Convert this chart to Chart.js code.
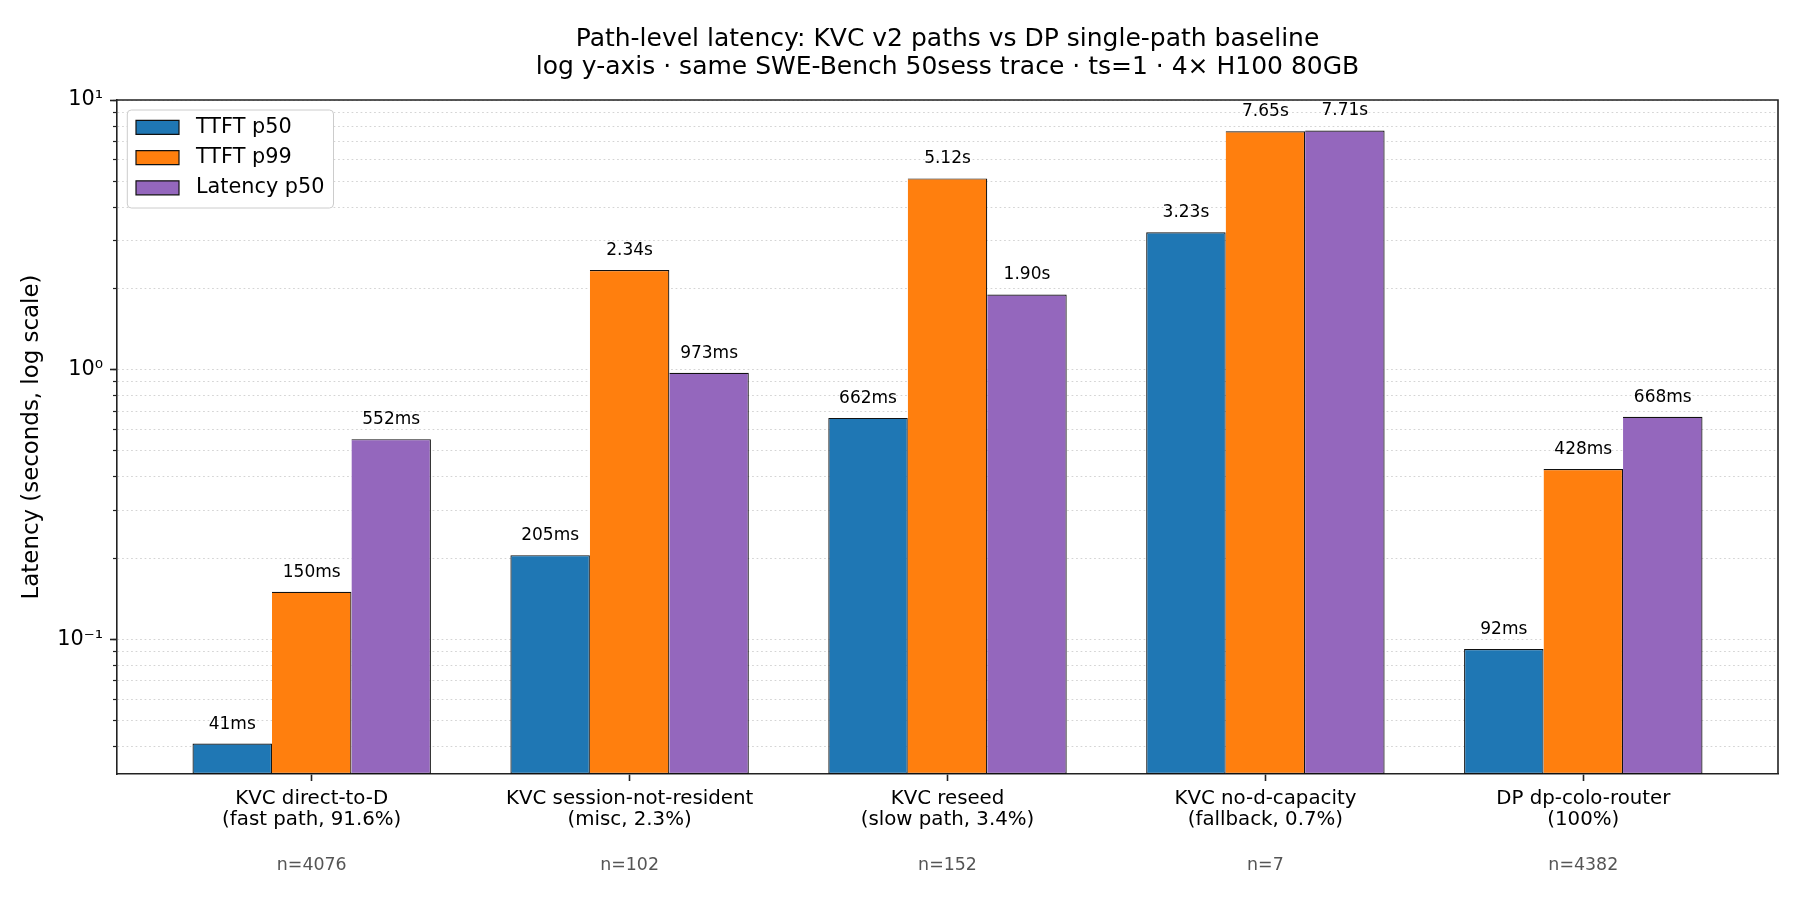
<!DOCTYPE html>
<html lang="en">
<head>
  <meta charset="UTF-8">
  <title>Path-level latency: KVC v2 vs DP</title>
  <script src="https://cdn.jsdelivr.net/npm/chart.js"></script>
  <style>
    html, body { margin: 0; padding: 0; background: #fff; }
  </style>
</head>
<body>
  <canvas id="latencyChart" width="1800" height="900"></canvas>

  <script>
    // ---- data ----
    const categories = [
      ['KVC direct-to-D', '(fast path, 91.6%)'],
      ['KVC session-not-resident', '(misc, 2.3%)'],
      ['KVC reseed', '(slow path, 3.4%)'],
      ['KVC no-d-capacity', '(fallback, 0.7%)'],
      ['DP dp-colo-router', '(100%)']
    ];
    const sampleCounts = ['n=4076', 'n=102', 'n=152', 'n=7', 'n=4382'];

    const seriesNames = ['TTFT p50', 'TTFT p99', 'Latency p50'];
    const ttftP50 = [0.041, 0.205, 0.662, 3.23, 0.092];     // seconds
    const ttftP99 = [0.150, 2.34, 5.12, 7.65, 0.428];
    const latencyP50 = [0.552, 0.973, 1.90, 7.71, 0.668];
    const seriesColors = ['#1f77b4', '#ff7f0e', '#9467bd'];

    const yMajorTicks = [0.1, 1, 10];
    const yMajorLabels = ['10⁻¹', '10⁰', '10¹'];
    const yMinorTicks = [0.04, 0.05, 0.06, 0.07, 0.08, 0.09,
                         0.2, 0.3, 0.4, 0.5, 0.6, 0.7, 0.8, 0.9,
                         2, 3, 4, 5, 6, 7, 8, 9];
    const yMin = 0.031623, yMax = 10;

    const titleLines = [
      'Path-level latency: KVC v2 paths vs DP single-path baseline',
      'log y-axis · same SWE-Bench 50sess trace · ts=1 · 4× H100 80GB'
    ];

    // ---- helpers ----
    const FONT = '"DejaVu Sans", sans-serif';
    const SPINE = '#222';
    Chart.defaults.font.family = FONT;
    Chart.defaults.color = '#000';

    function fmt(v) {
      return v < 1 ? Math.round(v * 1000) + 'ms' : v.toFixed(2) + 's';
    }

    const allSeries = [ttftP50, ttftP99, latencyP50];
    const datasets = allSeries.map((vals, k) => ({
      label: seriesNames[k],
      data: vals.map((v, i) => ({ x: i, y: v })),
      backgroundColor: seriesColors[k],
      borderColor: '#111',
      borderWidth: 1.2,
      borderSkipped: k === 0 ? false : 'left',
      categoryPercentage: 0.75,
      barPercentage: 1.0
    }));

    // value text above each bar
    const valueLabels = {
      id: 'valueLabels',
      afterDatasetsDraw(chart) {
        const { ctx } = chart;
        const yScale = chart.scales.y;
        ctx.save();
        ctx.font = '17px ' + FONT;
        ctx.fillStyle = '#000';
        ctx.textAlign = 'center';
        ctx.textBaseline = 'alphabetic';
        chart.data.datasets.forEach((ds, di) => {
          chart.getDatasetMeta(di).data.forEach((bar, i) => {
            const v = ds.data[i].y;
            ctx.fillText(fmt(v), bar.x, yScale.getPixelForValue(v) - 15);
          });
        });
        ctx.restore();
      }
    };

    // top/right spines, legend frame
    const frame = {
      id: 'frame',
      afterLayout(chart) {
        const lg = chart.legend, a = chart.chartArea;
        if (!lg) return;
        lg.left = a.left + 9.6;
        lg.top = a.top + 7.6;
        lg.width = 300; lg.height = 130;
        lg.right = lg.left + lg.width;
        lg.bottom = lg.top + lg.height;
      },
      beforeDatasetsDraw(chart) {
        const lg = chart.legend, ctx = chart.ctx, a = chart.chartArea;
        if (!lg) return;
        const pad = lg.options.labels.padding;
        const maxW = Math.max(...lg.legendHitBoxes.map(h => h.width));
        const x0 = a.left + 10.3, y0 = a.top + 10;
        const x1 = lg.left + pad + maxW + 9, y1 = a.top + 108;
        ctx.save();
        ctx.beginPath();
        ctx.roundRect(x0, y0, x1 - x0, y1 - y0, 4);
        ctx.fillStyle = '#fff';
        ctx.fill();
        ctx.lineWidth = 1;
        ctx.strokeStyle = '#cccccc';
        ctx.stroke();
        ctx.restore();
        lg.draw(a);
      },
      afterDatasetsDraw(chart) {
        const { ctx, chartArea: a } = chart;
        ctx.save();
        ctx.strokeStyle = SPINE;
        ctx.lineWidth = 1.6;
        ctx.beginPath();
        ctx.moveTo(a.left, a.top);
        ctx.lineTo(a.right, a.top);
        ctx.lineTo(a.right, a.bottom);
        ctx.stroke();
        ctx.restore();
      }
    };

    new Chart(document.getElementById('latencyChart'), {
      type: 'bar',
      data: { datasets },
      plugins: [valueLabels, frame],
      options: {
        responsive: false,
        animation: false,
        devicePixelRatio: 1,
        layout: { padding: { left: 0, right: 22, top: 0, bottom: 0 } },
        plugins: {
          title: {
            display: true,
            text: titleLines,
            fullSize: false,
            color: '#000',
            font: { size: 25, weight: 'normal', lineHeight: 1.12 },
            padding: { top: 25, bottom: 19 }
          },
          legend: {
            position: 'chartArea',
            align: 'start',
            labels: {
              boxWidth: 43,
              boxHeight: 14,
              padding: 9.4,
              color: '#000',
              font: { size: 20.8 },
              generateLabels(chart) {
                const items = Chart.defaults.plugins.legend.labels.generateLabels(chart);
                items.forEach(it => { it.text = ' ' + it.text; });
                return items;
              }
            }
          },
          tooltip: { enabled: false }
        },
        scales: {
          x: {
            type: 'linear',
            position: 'bottom',
            weight: 0,
            min: -0.6125,
            max: 4.6125,
            offset: false,
            grid: { display: true, drawOnChartArea: false, drawTicks: true, tickLength: 7,
                    tickWidth: 1.6, tickColor: SPINE, offset: false },
            border: { display: true, color: SPINE, width: 1.6 },
            ticks: {
              autoSkip: false, maxRotation: 0, padding: 7.6, color: '#000',
              font: { size: 19.8, lineHeight: 1.045 },
              callback: (v, i) => categories[i]
            },
            afterBuildTicks: s => { s.ticks = categories.map((_, i) => ({ value: i })); },
            afterFit: s => { s.height = 70; }
          },
          x2: {
            type: 'linear',
            position: 'bottom',
            weight: 1,
            min: -0.6125,
            max: 4.6125,
            offset: false,
            grid: { display: false, drawTicks: false, offset: false },
            border: { display: false },
            ticks: {
              autoSkip: false, maxRotation: 0, padding: 11, color: '#555',
              font: { size: 17.4 },
              callback: (v, i) => sampleCounts[i]
            },
            afterBuildTicks: s => { s.ticks = sampleCounts.map((_, i) => ({ value: i })); },
            afterFit: s => { s.height = 56; }
          },
          y: {
            type: 'logarithmic',
            position: 'left',
            weight: 1,
            min: yMin,
            max: yMax,
            beginAtZero: false,
            grid: { color: '#d4d4d4', lineWidth: 1, drawTicks: true, tickLength: 4,
                    tickWidth: 1.2, tickColor: SPINE },
            border: { display: true, color: SPINE, width: 1.6, dash: [1.7, 2.8] },
            ticks: {
              autoSkip: false, padding: 10, color: '#000',
              font: { size: 20.8 },
              callback: v => {
                const k = yMajorTicks.indexOf(v);
                return k >= 0 ? yMajorLabels[k] : '';
              }
            },
            afterBuildTicks: s => {
              s.ticks = yMinorTicks.concat(yMajorTicks).sort((a, b) => a - b).map(v => ({ value: v }));
            },
            title: {
              display: true,
              text: 'Latency (seconds, log scale)',
              color: '#000',
              font: { size: 22.9 },
              padding: { top: 18, bottom: 0 }
            },
            afterFit: s => { s.width = 117; }
          },
          y2: {
            type: 'logarithmic',
            position: 'left',
            weight: 0,
            min: yMin,
            max: yMax,
            beginAtZero: false,
            grid: { drawOnChartArea: false, drawTicks: true, tickLength: 7,
                    tickWidth: 1.6, tickColor: SPINE },
            border: { display: false },
            ticks: { display: false, autoSkip: false },
            afterBuildTicks: s => { s.ticks = yMajorTicks.map(v => ({ value: v })); },
            afterFit: s => { s.width = 0; }
          }
        }
      }
    });
  </script>
</body>
</html>
